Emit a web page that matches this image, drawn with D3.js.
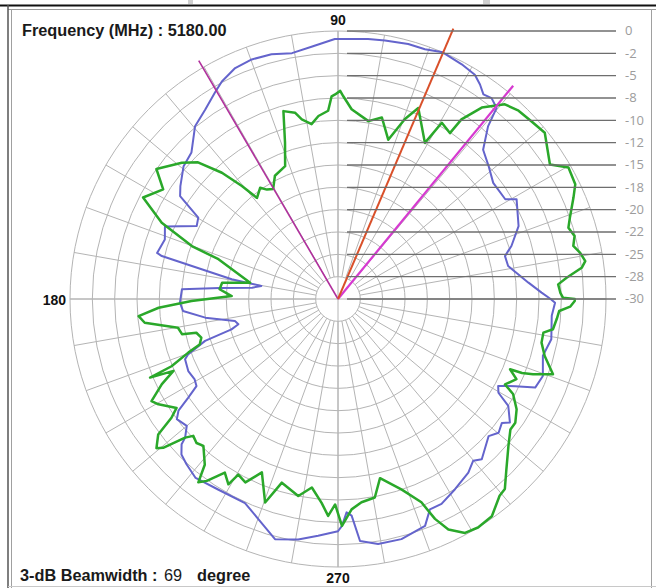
<!DOCTYPE html>
<html><head><meta charset="utf-8">
<script src="https://cdn.jsdelivr.net/npm/d3@7"></script>
<style>html,body{margin:0;padding:0;background:#fff}svg{display:block}</style>
</head><body><svg id="c" width="656" height="588"></svg>
<script>
// ---- data ----
const ringValues = [0,-2.5,-5,-7.5,-10,-12.5,-15,-17.5,-20,-22.5,-25,-27.5,-30];
const ringLabels = ["0","-2","-5","-8","-10","-12","-15","-18","-20","-22","-25","-28","-30"];
const angleLabels = ["90","180","270"];
const angleLabelAngles = [90,180,270];
const frequencyText = "5180.00";
const beamwidthValue = "69";
const peakAngle = 66.9;
const beamEdgeAngles = [50.6, 120.3];

const blueAngle = [0,1.8,4.9,11,14.4,17,22,29.2,30.8,36.8,41.5,45.8,49,50.3,52.6,54.6,56.5,58.6,62.2,67,70.8,74.6,79.7,83.4,90.7,96,100.6,105.2,109.8,114,118.1,120.8,125,129.6,135,139.3,144.4,146.9,149.8,152.7,157.3,161,165.7,166.3,169.5,170.3,172.5,174.7,176.4,181.3,184.4,188,192.1,194.2,195.9,197.5,200.3,201.5,205.7,209.3,211.6,213.4,215,216.7,220,222.2,222.9,224.8,227.5,231.5,237.8,245.5,250.1,255.3,260.6,265.2,270,271,272.3,273.6,275.2,279.3,284.8,291,293.6,296.8,301.6,306.9,309.9,311.9,317.7,320.2,322.9,324.3,327.9,329.7,331.5,333.8,335.8,339.4,344.5,349.3,355.5,359];
const blueDb = [-6.2,-7.2,-8.6,-10.6,-10.7,-9.7,-8.2,-7.1,-8.2,-8.3,-7.5,-6.7,-4.4,-2.2,-1.7,-1.9,-1.2,-0.6,-0.3,0,-0.4,-0.4,-0.6,-0.7,-0.9,-1.6,-2.0,-1.6,-1.5,-1.7,-2.4,-3.1,-4.1,-4.9,-6.8,-7.2,-8.3,-8.9,-11.9,-12.2,-9.0,-9.5,-9.1,-9.7,-17.9,-21.3,-20.3,-16.7,-12.5,-12.3,-12.6,-15.0,-18.2,-18.5,-17.6,-14.4,-12.1,-11.6,-11.4,-11.6,-11.4,-9.9,-8.2,-7.5,-7.9,-6.9,-6.1,-5.3,-4.9,-4.4,-4.8,-4.9,-3.8,-2.2,-2.7,-3.4,-4.0,-4.6,-6.1,-5.7,-2.8,-2.2,-2.2,-2.8,-4.3,-4.3,-5.0,-5.7,-6.4,-5.9,-7.2,-6.6,-7.0,-6.3,-7.5,-9.2,-9.6,-7.9,-5.8,-5.5,-6.2,-5.7,-6.0,-5.7];

const greenAngle = [0,0.3,1.6,3.8,5.3,7.3,8.7,10.8,12.7,14.9,17.2,19.3,23.3,25.8,29.7,32.4,38.8,42.6,46.2,49.4,53.1,55.5,56,59.5,60.9,67.2,69.6,72.5,76.4,80.3,85.9,88.5,89.4,90.8,91.8,93,96.1,98.6,101.4,103,106.2,108.7,111.7,117.1,120.5,123,125,128.7,130.4,132.6,135.7,138.9,144.4,147.9,152.5,156.6,160.1,161.6,169.5,172,175.3,177.5,178.4,180.8,182.8,184.9,187,190.2,192.7,193.4,195.8,198.2,199.7,202,202.7,203.6,205.8,208.7,210.4,214,215.5,217,219.4,220.4,222.2,223.4,225.5,227.5,231.2,232.7,234.2,236.9,239.4,240.4,243.2,246.3,250.3,253,258.6,262.1,265.4,267.4,269.2,271,273.7,276.6,280.5,283.2,288.5,292.3,293.8,295.6,298.5,301.5,305.3,309.4,311.3,314.7,319.2,322.9,325.1,328.3,331.5,332.9,335.8,337.8,338.1,338.9,340.7,344.6,347.9,350.7,352,354.9,356.9,358.1,359.5];
const greenDb = [-3.5,-4.8,-5.1,-5.3,-4.3,-2.5,-2.0,-2.4,-3.0,-2.6,-3.0,-2.5,-1.3,-0.5,-0.3,-1.9,-0.3,-0.6,-0.8,-1.3,-3.2,-5.6,-7.6,-7.1,-10.0,-6.8,-8.5,-11.3,-9.1,-9.8,-8.7,-7.3,-6.7,-7.1,-7.3,-8.9,-9.4,-10.2,-9.5,-8.6,-8.1,-11.5,-14.0,-14.5,-15.7,-15.4,-14.8,-15.5,-13.4,-10.8,-8.1,-6.8,-5.0,-6.9,-5.4,-8.5,-12.6,-15.9,-20.0,-16.9,-16.7,-17.7,-18.1,-13.6,-9.9,-7.6,-8.2,-11.8,-12.1,-13.7,-14.1,-13.7,-12.2,-9.9,-7.2,-9.9,-8.1,-6.2,-6.7,-8.2,-7.1,-4.8,-3.7,-4.3,-6.9,-7.7,-7.4,-7.7,-6.2,-4.2,-4.9,-6.8,-5.9,-7.4,-7.0,-8.8,-5.8,-8.5,-7.5,-8.7,-7.1,-5.7,-7.0,-4.6,-6.4,-7.1,-7.4,-9.4,-7.5,-5.4,-3.1,-1.4,-0.2,0,-0.2,-1.5,-1.7,-3.2,-4.8,-5.8,-5.8,-6.5,-7.7,-9.0,-8.1,-9.2,-7.8,-6.6,-4.5,-6.0,-6.7,-6.7,-5.7,-5.4,-5.2,-4.0,-3.5];

// ---- layout ----
const cx = 338, cy = 299, R = 268;
const svg = d3.select("#c");
const rScale = d3.scaleLinear().domain([-30, 0]).range([0, R]);
const aScale = d3.scaleLinear().domain([0, 360]).range([Math.PI/2, Math.PI/2 - 2*Math.PI]);
const toXY = (deg, r) => [r*Math.cos(deg*Math.PI/180), -r*Math.sin(deg*Math.PI/180)];

// frame
svg.append("rect").attr("x",0).attr("y",0).attr("width",656).attr("height",588).attr("fill","#fff");
svg.append("rect").attr("x",188).attr("y",0).attr("width",5).attr("height",4).attr("fill","#d0d0d0");
svg.append("rect").attr("x",483).attr("y",0).attr("width",7).attr("height",4).attr("fill","#d0d0d0");
svg.append("line").attr("x1",0).attr("x2",656).attr("y1",5.5).attr("y2",5.5).attr("stroke","#111").attr("stroke-width",2);
svg.append("line").attr("x1",8).attr("x2",656).attr("y1",9.5).attr("y2",9.5).attr("stroke","#9a9a9a").attr("stroke-width",1);
svg.append("line").attr("x1",8).attr("x2",8).attr("y1",5).attr("y2",588).attr("stroke","#555").attr("stroke-width",1.5);
svg.append("line").attr("x1",11.5).attr("x2",11.5).attr("y1",9).attr("y2",588).attr("stroke","#a0a0a0").attr("stroke-width",1);
svg.append("line").attr("x1",651.5).attr("x2",651.5).attr("y1",9).attr("y2",588).attr("stroke","#a0a0a0").attr("stroke-width",1);
svg.append("line").attr("x1",8).attr("x2",656).attr("y1",586.5).attr("y2",586.5).attr("stroke","#c8c8c8").attr("stroke-width",1);

const g = svg.append("g").attr("transform", `translate(${cx},${cy})`);
const grid = g.append("g").attr("stroke", "#b4b4b4").attr("fill", "none").attr("stroke-width", 1);

// rings
grid.selectAll("circle").data(ringValues.filter(v => v > -30)).join("circle")
  .attr("r", d => rScale(d));
// spokes
const r0 = rScale(ringValues[ringValues.length-2]);
grid.selectAll("line.spoke").data(d3.range(0, 360, 10)).join("line").attr("class","spoke")
  .attr("x1", d => toXY(d, r0)[0]).attr("y1", d => toXY(d, r0)[1])
  .attr("x2", d => toXY(d, R)[0]).attr("y2", d => toXY(d, R)[1]);
// axes
grid.append("line").attr("x1",-R).attr("x2",R).attr("y1",0).attr("y2",0);
grid.append("line").attr("x1",0).attr("x2",0).attr("y1",-R).attr("y2",R);

// dB scale lines & labels
const lab = svg.append("g");
lab.selectAll("line").data(ringValues).join("line")
  .attr("x1", 347).attr("x2", 616)
  .attr("y1", d => cy - rScale(d)).attr("y2", d => cy - rScale(d))
  .attr("stroke", "#6e6e6e").attr("stroke-width", 1.4);
lab.selectAll("text").data(ringLabels).join("text")
  .attr("x", 625).attr("y", (d,i) => cy - rScale(ringValues[i]) + 1)
  .attr("dominant-baseline", "middle")
  .attr("font-family", "'Open Sans', 'Liberation Sans', sans-serif").attr("font-size", 13)
  .attr("fill", "#9c9c9c").text(d => d);

// curves
const line = d3.lineRadial().angle(d => aScale(d[0])).radius(d => rScale(d[1])).curve(d3.curveLinearClosed);
const blue = blueAngle.map((a,i) => [a, blueDb[i]]);
const green = greenAngle.map((a,i) => [a, greenDb[i]]);
g.append("path").attr("d", line(blue)).attr("fill","none").attr("stroke","#6464cc").attr("stroke-width",2).attr("stroke-linejoin","round");
g.append("path").attr("d", line(green)).attr("fill","none").attr("stroke","#2aa82a").attr("stroke-width",2.5).attr("stroke-linejoin","round");

// beam lines
const bl = [
  {a: beamEdgeAngles[1], len: 276, c: "#b02f9c", w: 1.6},
  {a: beamEdgeAngles[0], len: 276, c: "#d63ad0", w: 2.2},
  {a: peakAngle, len: 294, c: "#d9502a", w: 2}
];
g.selectAll("line.beam").data(bl).join("line").attr("class","beam")
  .attr("x1",0).attr("y1",0)
  .attr("x2", d => toXY(d.a, d.len)[0]).attr("y2", d => toXY(d.a, d.len)[1])
  .attr("stroke", d => d.c).attr("stroke-width", d => d.w);

// angle labels
const font = "'Liberation Sans', Arial, sans-serif";
const alPos = [[cx, 25, "middle"], [66, 304.5, "end"], [cx, 583, "middle"]];
svg.selectAll("text.al").data(angleLabels).join("text").attr("class","al")
  .attr("x", (d,i) => alPos[i][0]).attr("y", (d,i) => alPos[i][1])
  .attr("text-anchor", (d,i) => alPos[i][2])
  .attr("font-family", font).attr("font-weight", "bold").attr("font-size", 14).attr("fill", "#111")
  .text(d => d);

// titles
svg.append("text").attr("x", 22).attr("y", 36).attr("font-family", font).attr("font-weight","bold")
  .attr("font-size", 16.3).attr("fill", "#1a1a1a").text("Frequency (MHz) : " + frequencyText);
const bt = svg.append("g").attr("font-family", font).attr("font-size", 16.3).attr("fill", "#1a1a1a");
bt.append("text").attr("x", 20).attr("y", 581).attr("font-weight","bold").text("3-dB Beamwidth :");
bt.append("text").attr("x", 164).attr("y", 581).text(beamwidthValue);
bt.append("text").attr("x", 197).attr("y", 581).attr("font-weight","bold").text("degree");
</script>
</body></html>
